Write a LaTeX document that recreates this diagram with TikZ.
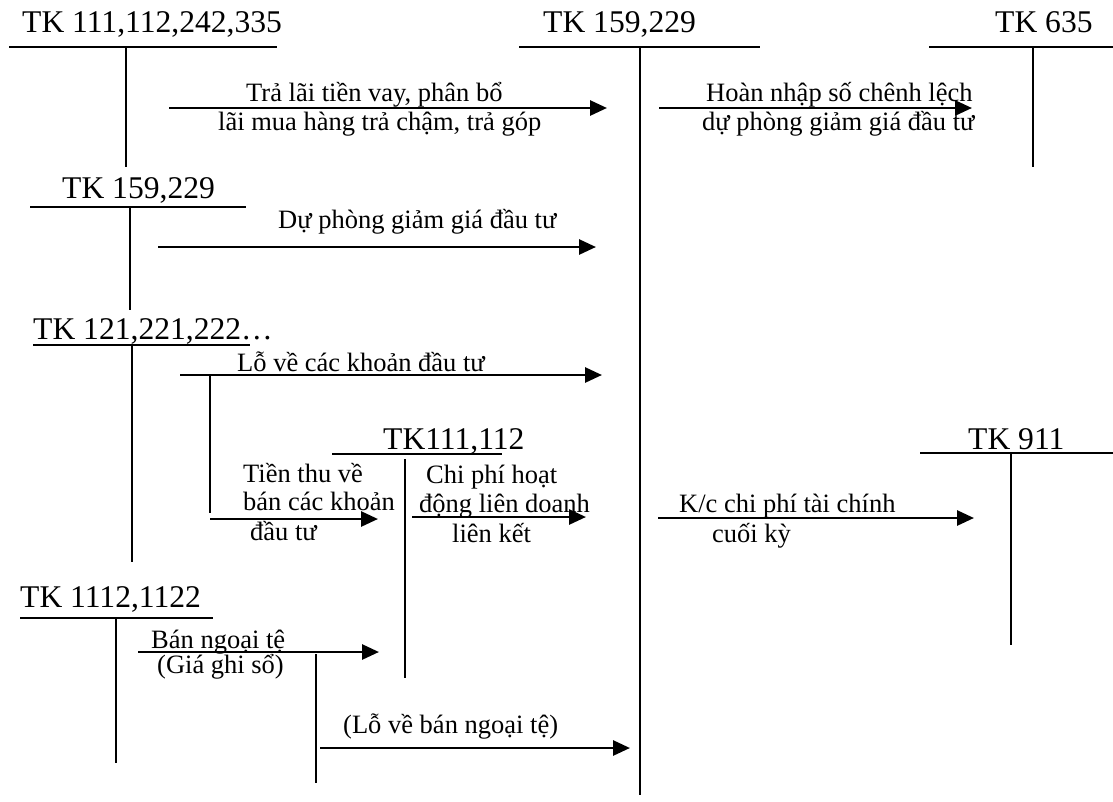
\documentclass[tikz,border=0pt]{standalone}
\usepackage{fontspec}
\setmainfont{Liberation Serif}
\usetikzlibrary{arrows.meta}
\tikzset{
  acct/.style={line width=1.6pt},
  flow/.style={line width=2.8pt, -{Triangle[length=17pt,width=15pt]}},
  ttl/.style={anchor=base west, inner sep=0pt, font=\fontsize{31.6}{36}\selectfont},
  lbl/.style={anchor=base west, inner sep=0pt, font=\fontsize{26.5}{30}\selectfont},
}
\begin{document}
\begin{tikzpicture}[x=1pt,y=-1pt]
\useasboundingbox (0,0) rectangle (1113,801);

% ---------- account titles ----------
\node[ttl] (t1) at (22,32) {TK 111,112,242,335};
\node[ttl] (t2) at (543,32) {TK 159,229};
\node[ttl] (t3) at (995,32) {TK 635};
\node[ttl] (t4) at (62,198) {TK 159,229};
\node[ttl] (t5) at (33,339) {TK 121,221,222…};
\node[ttl] (t6) at (383,449) {TK111,112};
\node[ttl] (t7) at (968,449) {TK 911};
\node[ttl] (t8) at (20,607) {TK 1112,1122};

% ---------- T-account coordinates ----------
\coordinate (a1l) at (9,47);    \coordinate (a1r) at (277,47);
\coordinate (a1t) at (126,47);  \coordinate (a1b) at (126,167);
\coordinate (a2l) at (519,47);  \coordinate (a2r) at (760,47);
\coordinate (a2t) at (640,47);  \coordinate (a2b) at (640,795);
\coordinate (a3l) at (929,47);  \coordinate (a3r) at (1113,47);
\coordinate (a3t) at (1033,47); \coordinate (a3b) at (1033,167);
\coordinate (a4l) at (30,207);  \coordinate (a4r) at (246,207);
\coordinate (a4t) at (130,207); \coordinate (a4b) at (130,310);
\coordinate (a5l) at (33,345);  \coordinate (a5r) at (250,345);
\coordinate (a5t) at (132,345); \coordinate (a5b) at (132,562);
\coordinate (a6l) at (332,454); \coordinate (a6r) at (502,454);
\coordinate (a6t) at (405,459); \coordinate (a6b) at (405,678);
\coordinate (a7l) at (920,453); \coordinate (a7r) at (1113,453);
\coordinate (a7t) at (1011,453);\coordinate (a7b) at (1011,645);
\coordinate (a8l) at (20,618);  \coordinate (a8r) at (213,618);
\coordinate (a8t) at (116,618); \coordinate (a8b) at (116,763);
\coordinate (b1t) at (210,376); \coordinate (b1b) at (210,513);
\coordinate (b2t) at (316,654); \coordinate (b2b) at (316,783);

\draw[acct] (a1l) -- (a1r) (a1t) -- (a1b);
\draw[acct] (a2l) -- (a2r) (a2t) -- (a2b);
\draw[acct] (a3l) -- (a3r) (a3t) -- (a3b);
\draw[acct] (a4l) -- (a4r) (a4t) -- (a4b);
\draw[acct] (a5l) -- (a5r) (a5t) -- (a5b);
\draw[acct] (a6l) -- (a6r) (a6t) -- (a6b);
\draw[acct] (a7l) -- (a7r) (a7t) -- (a7b);
\draw[acct] (a8l) -- (a8r) (a8t) -- (a8b);
\draw[acct] (b1t) -- (b1b);
\draw[acct] (b2t) -- (b2b);

% ---------- flow arrows ----------
\coordinate (r1s) at (169,108); \coordinate (r1e) at (607,108);
\coordinate (r2s) at (659,108); \coordinate (r2e) at (972,108);
\coordinate (r3s) at (158,247); \coordinate (r3e) at (596,247);
\coordinate (r4s) at (180,375); \coordinate (r4e) at (602,375);
\coordinate (r5s) at (210,519); \coordinate (r5e) at (378,519);
\coordinate (r6s) at (412,517); \coordinate (r6e) at (586,517);
\coordinate (r7s) at (658,518); \coordinate (r7e) at (974,518);
\coordinate (r8s) at (138,652); \coordinate (r8e) at (379,652);
\coordinate (r9s) at (320,748); \coordinate (r9e) at (630,748);

\draw[flow] (r1s) -- (r1e);
\draw[flow] (r2s) -- (r2e);
\draw[flow] (r3s) -- (r3e);
\draw[flow] (r4s) -- (r4e);
\draw[flow] (r5s) -- (r5e);
\draw[flow] (r6s) -- (r6e);
\draw[flow] (r7s) -- (r7e);
\draw[flow] (r8s) -- (r8e);
\draw[flow] (r9s) -- (r9e);

% ---------- labels ----------
\node[lbl] (l1a) at (246,101) {Trả lãi tiền vay, phân bổ};
\node[lbl] (l1b) at (218,130) {lãi mua hàng trả chậm, trả góp};
\node[lbl] (l2a) at (706,101) {Hoàn nhập số chênh lệch};
\node[lbl] (l2b) at (702,130) {dự phòng giảm giá đầu tư};
\node[lbl] (l3)  at (278,228) {Dự phòng giảm giá đầu tư};
\node[lbl] (l4)  at (237,371) {Lỗ về các khoản đầu tư};
\node[lbl] (l5a) at (243,482) {Tiền thu về};
\node[lbl] (l5b) at (243,510) {bán các khoản};
\node[lbl] (l5c) at (250,540) {đầu tư};
\node[lbl] (l6a) at (426,483) {Chi phí hoạt};
\node[lbl] (l6b) at (419,512) {động liên doanh};
\node[lbl] (l6c) at (452,542) {liên kết};
\node[lbl] (l7a) at (679,512) {K/c chi phí tài chính};
\node[lbl] (l7b) at (712,542) {cuối kỳ};
\node[lbl] (l8a) at (151,648) {Bán ngoại tệ};
\node[lbl] (l8b) at (157,673) {(Giá ghi sổ)};
\node[lbl] (l9)  at (343,733) {(Lỗ về bán ngoại tệ)};
\end{tikzpicture}
\end{document}
